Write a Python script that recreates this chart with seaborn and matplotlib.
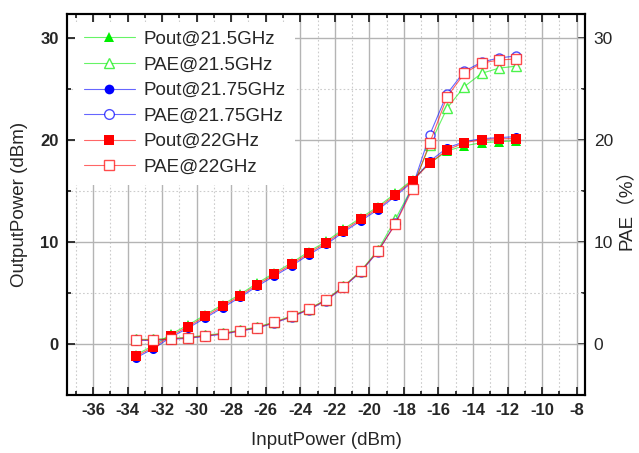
import numpy as np
import seaborn as sns
import matplotlib
matplotlib.use("Agg")
import matplotlib.pyplot as plt
from matplotlib.ticker import MultipleLocator
from matplotlib.lines import Line2D

sns.set_style("ticks")
plt.rcParams['font.family'] = ['Liberation Sans', 'Noto Sans CJK SC', 'DejaVu Sans']

# input power sweep (dBm)
pin = [-33.5, -32.5, -31.5, -30.5, -29.5, -28.5, -27.5, -26.5, -25.5, -24.5, -23.5, -22.5,
       -21.5, -20.5, -19.5, -18.5, -17.5, -16.5, -15.5, -14.5, -13.5, -12.5, -11.5]

# output power (dBm)
pout_215 = [-1.05, -0.15, 0.95, 1.85, 2.85, 3.85, 4.85, 5.95, 6.95, 7.95, 9.05, 10.05,
            11.25, 12.35, 13.45, 14.75, 16.1, 17.7, 18.9, 19.4, 19.7, 19.8, 19.9]
pout_2175 = [-1.35, -0.45, 0.65, 1.55, 2.55, 3.55, 4.55, 5.65, 6.65, 7.65, 8.75, 9.75,
             10.95, 12.05, 13.15, 14.45, 15.9, 17.9, 19.2, 19.8, 20.1, 20.2, 20.3]
pout_22 = [-1.2, -0.3, 0.8, 1.7, 2.7, 3.7, 4.7, 5.8, 6.8, 7.8, 8.9, 9.9,
           11.1, 12.2, 13.3, 14.6, 16.0, 17.7, 19.0, 19.7, 20.0, 20.1, 20.1]

# power added efficiency (%)
pae_215 = [0.45, 0.45, 0.55, 0.65, 0.85, 1.05, 1.35, 1.65, 2.15, 2.75, 3.45, 4.35,
           5.65, 7.15, 9.2, 12.2, 15.4, 19.5, 23.1, 25.2, 26.5, 27.0, 27.2]
pae_2175 = [0.35, 0.35, 0.45, 0.55, 0.75, 0.95, 1.25, 1.55, 2.05, 2.65, 3.35, 4.25,
            5.55, 7.05, 9.05, 11.8, 15.4, 20.5, 24.5, 26.7, 27.6, 28.0, 28.2]
pae_22 = [0.4, 0.4, 0.5, 0.6, 0.8, 1.0, 1.3, 1.6, 2.1, 2.7, 3.4, 4.3,
          5.6, 7.1, 9.1, 11.7, 15.2, 19.7, 24.2, 26.5, 27.5, 27.8, 27.9]

green = "#00ee00"
blue = "#0000ff"
red = "#ff0000"

fig = plt.figure(figsize=(6.39, 4.53), dpi=100)
ax = fig.add_axes([0.105, 0.128, 0.811, 0.841])
ax2 = ax.twinx()
ax.set_zorder(ax2.get_zorder() + 1)
ax.patch.set_visible(False)

series = [
    (pout_215, green, "^", True, "Pout@21.5GHz"),
    (pae_215, green, "^", False, "PAE@21.5GHz"),
    (pout_2175, blue, "o", True, "Pout@21.75GHz"),
    (pae_2175, blue, "o", False, "PAE@21.75GHz"),
    (pout_22, red, "s", True, "Pout@22GHz"),
    (pae_22, red, "s", False, "PAE@22GHz"),
]

handles = []
for vals, col, mk, filled, lab in series:
    lc = matplotlib.colors.to_rgba(col, 0.6)
    style = dict(marker=mk,
                 markerfacecolor=col if filled else "white",
                 markeredgecolor=col if filled else matplotlib.colors.to_rgba(col, 0.7),
                 markeredgewidth=0 if filled else 1.0)
    sns.lineplot(x=pin, y=vals, ax=ax, color=lc, lw=0.8, markersize=6.5, **style)
    handles.append(Line2D([], [], color=lc, lw=0.8, markersize=7, label=lab, **style))

ax.set_xlim(-37.5, -7.5)
ax.set_ylim(-5, 32.3)
ax2.set_ylim(-5, 32.3)

ax.xaxis.set_major_locator(MultipleLocator(2))
ax.xaxis.set_minor_locator(MultipleLocator(1))
ax.yaxis.set_major_locator(MultipleLocator(10))
ax.yaxis.set_minor_locator(MultipleLocator(5))
ax2.yaxis.set_major_locator(MultipleLocator(10))
ax2.yaxis.set_minor_locator(MultipleLocator(5))

ax.grid(which="major", color="#b4b4b4", lw=1.0, ls="-")
ax.grid(which="minor", color="#cccccc", lw=0.8, ls=(0, (1.5, 2)))
ax.set_axisbelow(True)

ax.tick_params(which="both", direction="in", top=True, right=False, width=1.3)
ax.tick_params(which="major", length=6, labelsize=12, pad=6)
ax.tick_params(which="minor", length=3)
ax2.tick_params(which="both", direction="in", width=1.3, labelsize=12.5, pad=6)
ax2.tick_params(which="major", length=6)
ax2.tick_params(which="minor", length=3)

ax.set_xticks(np.arange(-36, -7, 2))
ax.set_xticklabels([str(v) for v in range(-36, -7, 2)])
for lbl in ax.get_xticklabels() + ax.get_yticklabels():
    lbl.set_fontweight("bold")

for a in (ax, ax2):
    for sp in a.spines.values():
        sp.set_linewidth(1.5)
        sp.set_color("black")

ax.set_xlabel("InputPower (dBm)", fontsize=13.5, labelpad=10)
ax.set_ylabel("OutputPower (dBm)", fontsize=13.5, labelpad=9)
ax2.set_ylabel("PAE（%）", fontsize=13.5, labelpad=3)

leg = ax.legend(handles=handles, loc="upper left", bbox_to_anchor=(0.0, 1.0),
                fontsize=13.5, frameon=True, framealpha=1, edgecolor="none",
                facecolor="white", fancybox=False, handlelength=2.7,
                labelspacing=0.45, borderpad=0.5, handletextpad=0.5,
                borderaxespad=0.4)

fig.savefig("out.png", dpi=100)
